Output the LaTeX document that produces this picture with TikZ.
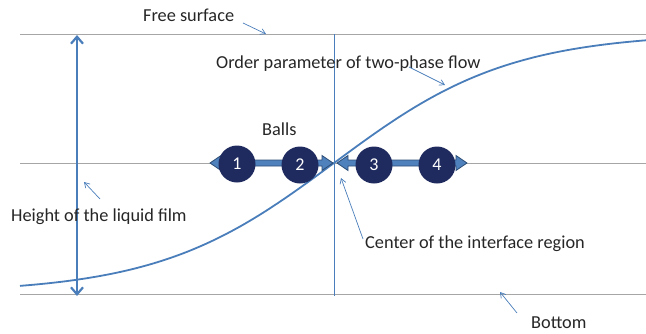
\documentclass[tikz,border=0pt]{standalone}
\usepackage{fontspec}
\setmainfont{Carlito}
\usetikzlibrary{arrows.meta,calc}
\definecolor{lblue}{HTML}{4A7EBB}
\definecolor{gline}{HTML}{A6A6A6}
\definecolor{navy}{HTML}{1F2A5E}
\definecolor{txt}{HTML}{262626}
\definecolor{bfill}{HTML}{4F81BD}
\definecolor{bedge}{HTML}{2C4D75}
\begin{document}
\begin{tikzpicture}[x=1pt,y=-1pt,
  lbl/.style={text=txt,font=\fontsize{18.3}{20}\selectfont,inner sep=0pt,anchor=base west},
  guide/.style={draw=gline,line width=1pt},
  pointer/.style={draw=lblue,line width=0.7pt,-{Straight Barb[length=5pt,width=6pt]}},
  ball/.style={circle,fill=navy,text=white,minimum size=37pt,inner sep=0pt,font=\fontsize{18}{20}\selectfont},
  blockarrow/.style={fill=bfill,draw=bedge,line width=0.8pt}]
\useasboundingbox (0,0) rectangle (646,333);
% guide lines
\coordinate (topL) at (20,34); \coordinate (topR) at (646,34);
\coordinate (midL) at (20,163); \coordinate (midR) at (646,163);
\coordinate (botL) at (20,294); \coordinate (botR) at (646,294);
\draw[guide] (topL) -- (topR);
\draw[guide] (midL) -- (midR);
\draw[guide] (botL) -- (botR);
% vertical centre line
\coordinate (vt) at (334,34); \coordinate (vb) at (334,296);
\draw[lblue,line width=0.9pt] (vt) -- (vb);
% height arrow
\coordinate (ht) at (77,35); \coordinate (hb) at (77,296);
\draw[lblue,line width=2.2pt,{Straight Barb[length=7pt,width=12pt]}-{Straight Barb[length=7pt,width=12pt]}] (ht) -- (hb);
% order parameter curve
\draw[lblue,line width=1.8pt,domain=20:646,samples=120,smooth] plot (\x,{163-130*tanh((\x-334)/176)});
% block arrows
\path[blockarrow] (210,163) -- (221,155.5) -- (221,160) -- (322,160) -- (322,155.5) -- (333,163) -- (322,170.5) -- (322,166) -- (221,166) -- (221,170.5) -- cycle;
\path[blockarrow] (337,163) -- (348,155.5) -- (348,160) -- (456,160) -- (456,155.5) -- (467,163) -- (456,170.5) -- (456,166) -- (348,166) -- (348,170.5) -- cycle;
% balls
\node[ball] (b1) at (237,164) {1};
\node[ball] (b2) at (300,165) {2};
\node[ball] (b3) at (374,165) {3};
\node[ball] (b4) at (437,165) {4};
% labels
\node[lbl] (free) at (143,21) {Free surface};
\node[lbl] (order) at (216,68) {Order parameter of two-phase flow};
\node[lbl] (balls) at (262,135) {Balls};
\node[lbl] (height) at (11,221) {Height of the liquid film};
\node[lbl] (center) at (365,248) {Center of the interface region};
\node[lbl] (bottom) at (531,328) {Bottom};
% pointers
\coordinate (freeS) at (243,23); \coordinate (freeT) at (266,34);
\coordinate (orderS) at (409,67); \coordinate (orderT) at (445,85);
\coordinate (heightS) at (100,199); \coordinate (heightT) at (84,182);
\coordinate (centerS) at (363,239); \coordinate (centerT) at (341,178);
\coordinate (bottomS) at (517,313); \coordinate (bottomT) at (500,292);
\draw[pointer] (freeS) -- (freeT);
\draw[pointer] (orderS) -- (orderT);
\draw[pointer] (heightS) -- (heightT);
\draw[pointer] (centerS) -- (centerT);
\draw[pointer] (bottomS) -- (bottomT);
\end{tikzpicture}
\end{document}
